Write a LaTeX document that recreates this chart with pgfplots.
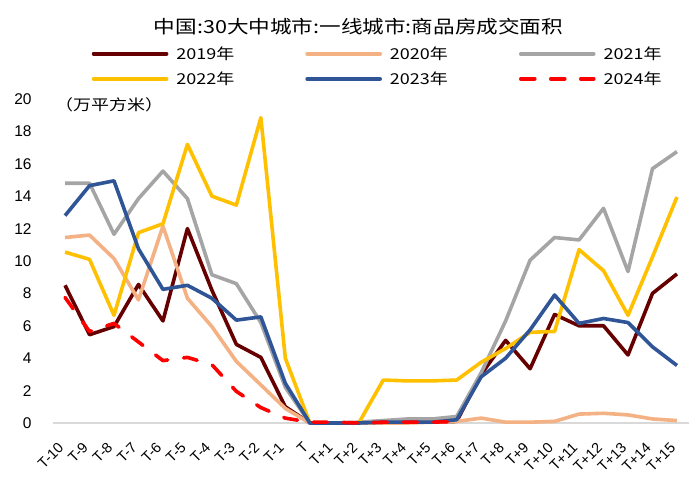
\documentclass[border=0pt]{standalone}
\usepackage{pgfplots}
\pgfplotsset{compat=1.18}
\usepackage{fontspec}
\setmainfont{Liberation Sans}
\newfontfamily\cjk{Noto Sans CJK SC}
\newfontfamily\cjkw[FakeStretch=1.2]{Noto Sans CJK SC}

\definecolor{c19}{HTML}{660000}
\definecolor{c20}{HTML}{F4B183}
\definecolor{c21}{HTML}{A5A5A5}
\definecolor{c22}{HTML}{FFC000}
\definecolor{c23}{HTML}{2F5597}
\definecolor{c24}{HTML}{FF0000}
\definecolor{zeroline}{HTML}{D9D9D9}

\begin{document}
\begin{tikzpicture}
\useasboundingbox (0pt,0pt) rectangle (700pt,478pt);

\begin{axis}[
  at={(52.8pt,55pt)}, anchor=south west,
  scale only axis, width=636.4pt, height=324pt,
  xmin=-0.5, xmax=25.5, ymin=0, ymax=20,
  clip=false,
  axis line style={draw=none},
  major tick length=0pt,
  ytick={0,2,...,20},
  xtick={0,...,25},
  xticklabels={T-10,T-9,T-8,T-7,T-6,T-5,T-4,T-3,T-2,T-1,T,T+1,T+2,T+3,T+4,T+5,T+6,T+7,T+8,T+9,T+10,T+11,T+12,T+13,T+14,T+15},
  /pgf/number format/assume math mode=true,
  yticklabel style={font=\fontsize{15.5}{17}\selectfont, anchor=east, inner sep=0pt, xshift=-21pt},
  xticklabel style={font=\fontsize{14.5}{16}\selectfont, inner sep=0pt, xshift=-4pt, yshift=-22pt, rotate=45, anchor=east},
  every axis plot/.append style={line width=3.6pt, line join=round},
  legend columns=3,
  legend style={at={(0.5647,1.1008)}, anchor=center, draw=none, fill=none,
    font=\cjkw\fontsize{15}{17}\selectfont,
    nodes={inner sep=0pt, anchor=west},
    column sep=0pt, row sep=11pt,
    /tikz/every odd column/.append style={column sep=8pt}},
  legend image code/.code={\draw[#1, line cap=round] (0pt,0pt) -- (73pt,0pt);},
]

\addplot[forget plot, color=zeroline, line width=2.5pt] coordinates {(-0.5,0) (25.5,0)};

% 2019
\addplot[color=c19] coordinates {
(0,8.5) (1,5.45) (2,5.95) (3,8.55) (4,6.3) (5,12.0) (6,8.2) (7,4.85) (8,4.05) (9,1.0)
(10,0) (11,0) (12,0) (13,0.05) (14,0.05) (15,0.05) (16,0.1) (17,3.0) (18,5.1) (19,3.35)
(20,6.7) (21,6.0) (22,6.0) (23,4.2) (24,8.0) (25,9.2)};
% 2020
\addplot[color=c20] coordinates {
(0,11.45) (1,11.6) (2,10.15) (3,7.6) (4,12.15) (5,7.7) (6,5.95) (7,3.8) (8,2.35) (9,0.9)
(10,0) (11,0) (12,0) (13,0) (14,0) (15,0.05) (16,0.1) (17,0.3) (18,0.05) (19,0.05)
(20,0.1) (21,0.55) (22,0.6) (23,0.5) (24,0.25) (25,0.15)};
% 2021
\addplot[color=c21] coordinates {
(0,14.8) (1,14.8) (2,11.65) (3,13.85) (4,15.55) (5,13.85) (6,9.15) (7,8.6) (8,6.2) (9,2.2)
(10,0) (11,0) (12,0.05) (13,0.15) (14,0.25) (15,0.25) (16,0.4) (17,3.1) (18,6.3) (19,10.05)
(20,11.45) (21,11.3) (22,13.25) (23,9.35) (24,15.7) (25,16.75)};
% 2022
\addplot[color=c22] coordinates {
(0,10.55) (1,10.1) (2,6.65) (3,11.75) (4,12.3) (5,17.2) (6,14.0) (7,13.45) (8,18.85) (9,4.0)
(10,0) (11,0) (12,0) (13,2.65) (14,2.6) (15,2.6) (16,2.65) (17,3.75) (18,4.6) (19,5.6)
(20,5.65) (21,10.7) (22,9.4) (23,6.65) (24,10.25) (25,13.95)};
% 2023
\addplot[color=c23] coordinates {
(0,12.8) (1,14.65) (2,14.95) (3,10.75) (4,8.25) (5,8.5) (6,7.7) (7,6.35) (8,6.55) (9,2.45)
(10,0) (11,0) (12,0) (13,0.05) (14,0.05) (15,0.05) (16,0.2) (17,2.85) (18,4.0) (19,5.75)
(20,7.9) (21,6.15) (22,6.45) (23,6.2) (24,4.7) (25,3.55)};
% 2024
\addplot[color=c24, dash pattern=on 14pt off 16pt, line cap=round] coordinates {
(0,7.75) (1,5.65) (2,6.15) (3,5.0) (4,3.85) (5,4.05) (6,3.6) (7,1.95) (8,0.95) (9,0.3)
(10,0.05) (11,0.05) (12,0) (13,0.05) (14,0.05) (15,0.05) (16,0.1)};

\legend{\makebox[129pt][l]{2019年},\makebox[129pt][l]{2020年},\makebox[129pt][l]{2021年},
        \makebox[129pt][l]{2022年},\makebox[129pt][l]{2023年},\makebox[129pt][l]{2024年}}
\end{axis}

\node[font=\cjkw\fontsize{18}{20}\selectfont] at (358.5pt,451pt) {中国:30大中城市:一线城市:商品房成交面积};
\node[anchor=west, inner sep=0pt, font=\cjkw\fontsize{15}{17}\selectfont] at (55pt,373pt) {（万平方米）};
\end{tikzpicture}
\end{document}
